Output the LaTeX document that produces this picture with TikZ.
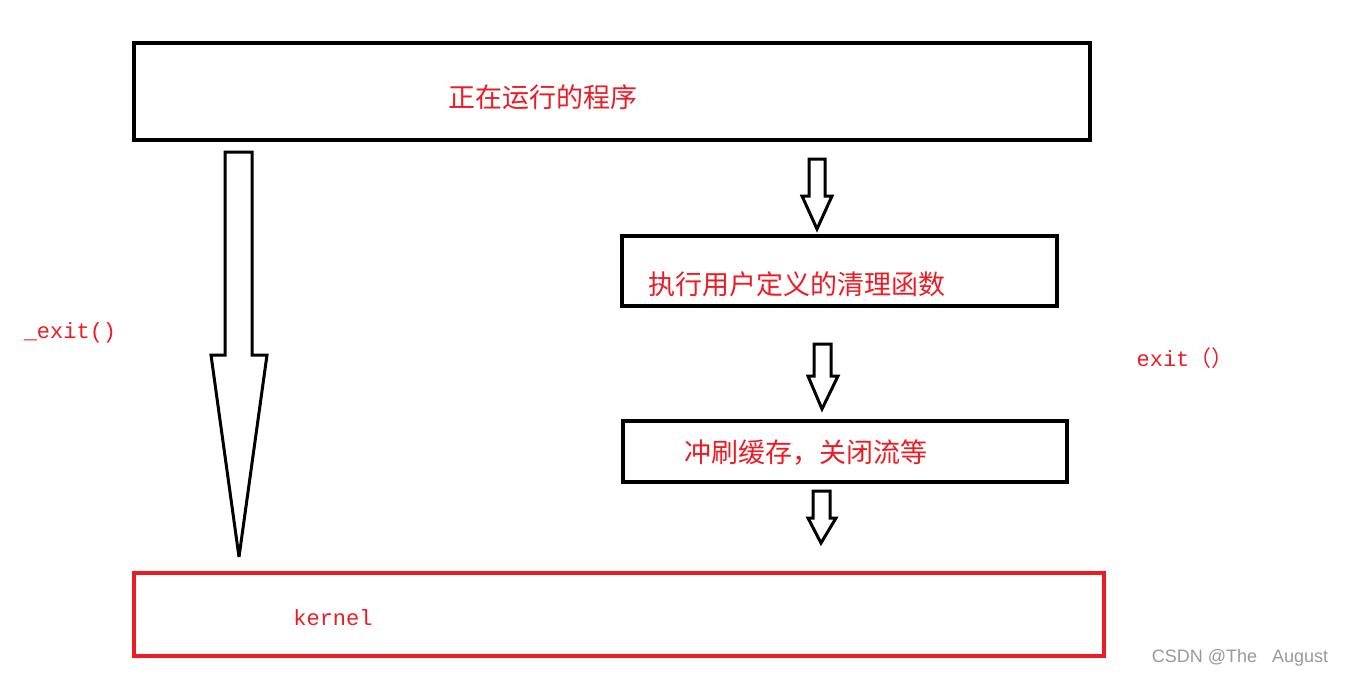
\documentclass[tikz,border=0pt]{standalone}
\usepackage{fontspec}
\setmonofont{Liberation Mono}
\setsansfont{Liberation Sans}
\newfontfamily\cjk{Noto Sans CJK SC}
\definecolor{rd}{RGB}{237,28,36}
\begin{document}
\begin{tikzpicture}[x=1pt,y=-1pt,
  box/.style={draw=black,line width=3.5pt},
  arr/.style={draw=black,line width=3pt,line join=miter,miter limit=3,fill=white},
  lab/.style={text=rd,font=\cjk\fontsize{27}{30}\selectfont,anchor=center},
  mono/.style={text=rd,font=\ttfamily\fontsize{22}{24}\selectfont}]
\useasboundingbox (0,0) rectangle (1346,678);
\draw[box] (134,43) rectangle (1090,140);
\node[lab] (t1) at (543,97) {正在运行的程序};
\draw[box] (622,236) rectangle (1057,306);
\node[lab] (t2) at (797,284) {执行用户定义的清理函数};
\draw[box] (623,421) rectangle (1067,482);
\node[lab] (t3) at (806,453) {冲刷缓存，关闭流等};
\draw[draw=rd,line width=3.5pt] (134,573) rectangle (1104,656);
\node[mono] (k) at (333,618) {kernel};
\node[mono] (e1) at (70,333) {\_exit()};
\node[text=rd,font=\fontsize{22}{24}\selectfont] (e2) at (1185,358) {\texttt{exit}\cjk（）};
\node[text=gray!80,font=\sffamily\fontsize{18}{20}\selectfont] (c) at (1240,658) {CSDN @The\ \ \ August};
\draw[arr] (225,152)--(252,152)--(252,355)--(267,355)--(239,557)--(211,355)--(225,355)--cycle;
\draw[arr] (809,159)--(825,159)--(825,196)--(832,196)--(817,229)--(802,196)--(809,196)--cycle;
\draw[arr] (814,344)--(831,344)--(831,376)--(838,376)--(822,409)--(808,376)--(814,376)--cycle;
\draw[arr] (813,491)--(830,491)--(830,518)--(836,518)--(821,543)--(808,518)--(813,518)--cycle;
\end{tikzpicture}
\end{document}
